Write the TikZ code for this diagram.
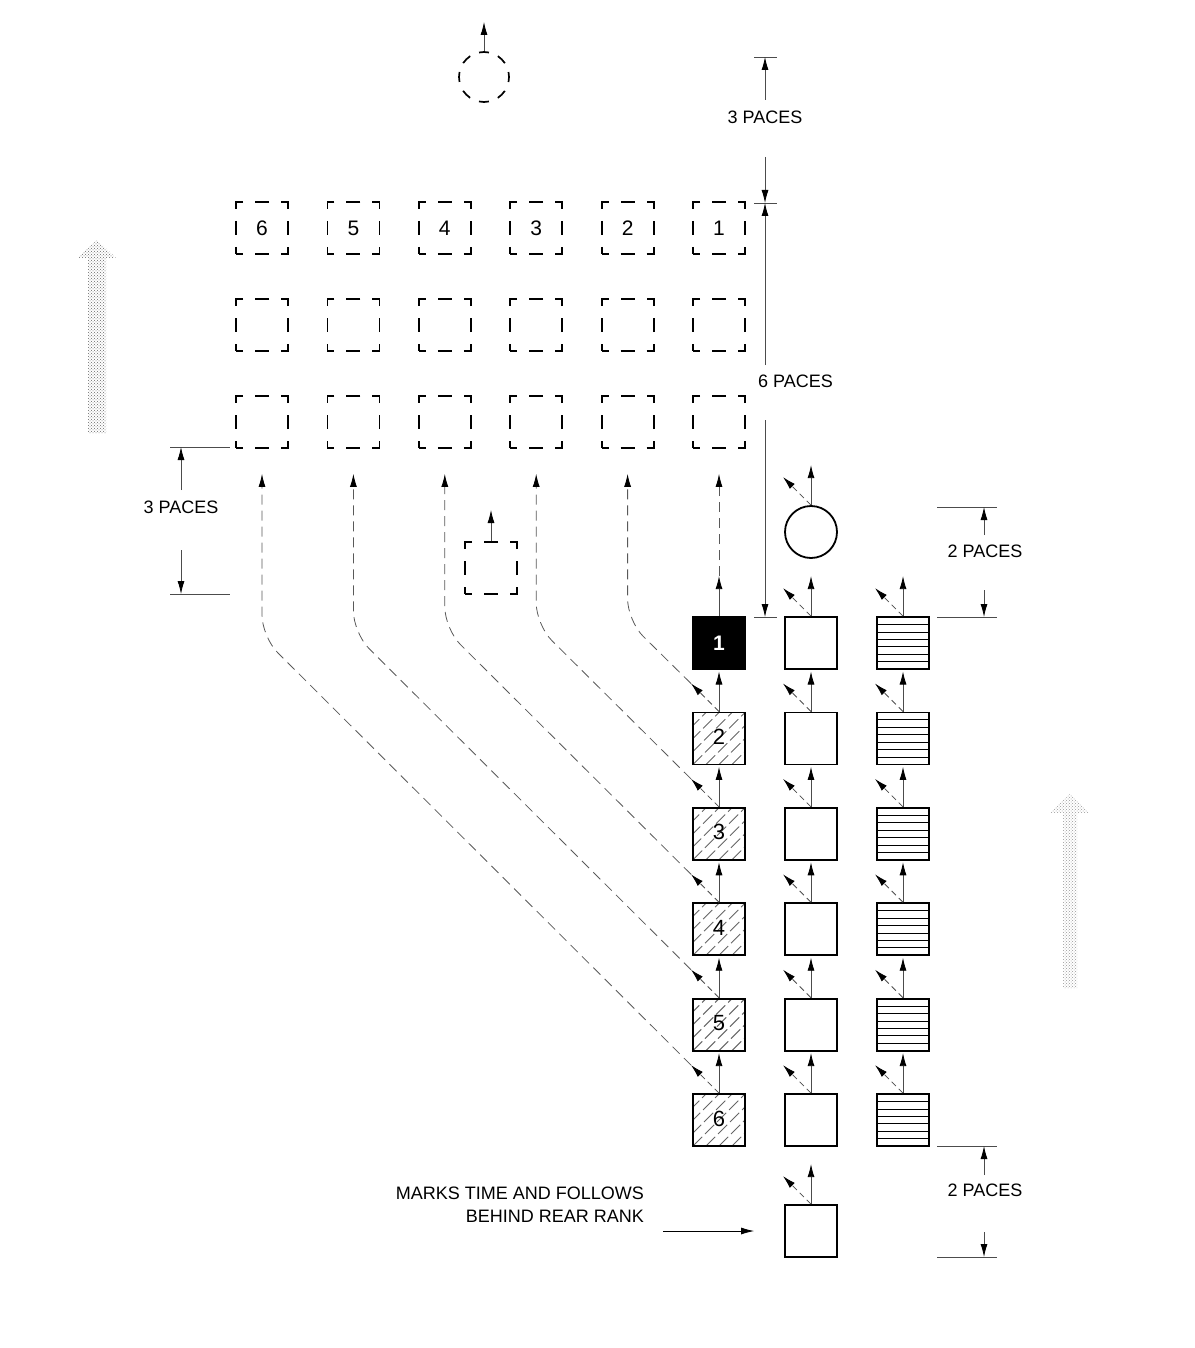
\documentclass[tikz,border=0pt]{standalone}
\usepackage{fontspec}
\setmainfont{Liberation Sans}
\usetikzlibrary{arrows.meta,patterns}
\begin{document}
\begin{tikzpicture}[x=1pt,y=-1pt,
  box/.style={draw, line width=1.8pt, minimum size=52pt, inner sep=0pt, font=\fontsize{22}{22}\selectfont},
  dbox/.style={draw, line width=1.8pt, minimum size=52pt, inner sep=0pt, dash pattern=on 14pt off 12pt, dash phase=7pt, font=\fontsize{21}{21}\selectfont},
  hatchbox/.style={box, path picture={
     \foreach \i in {-65,-52,...,65}
       \draw[gray!80!black, line width=0.9pt, dash pattern=on 13pt off 4pt]
         ([xshift=\i pt]path picture bounding box.south west) -- ++(60,-60);}},
  linebox/.style={box, path picture={
     \foreach \k in {1,...,6}
       \draw[line width=0.7pt]
         ([yshift={-\k*7.43pt}]path picture bounding box.north west) --
         ([yshift={-\k*7.43pt}]path picture bounding box.north east);}},
  arr/.style={draw=gray!60!black, line width=0.8pt, -{Latex[length=13pt,width=7pt,black]}},
  darr/.style={arr, dash pattern=on 6pt off 4pt},
  ldash/.style={arr, draw=gray!70!black, dash pattern=on 10pt off 6pt},
  dim/.style={draw=gray!60!black, line width=0.8pt},
  lbl/.style={font=\fontsize{18}{18}\selectfont, inner sep=1pt},
  shade/.style={draw=none, pattern=crosshatch dots, pattern color=#1}
]
\useasboundingbox (0,0) rectangle (1194,1348);

% shaded direction arrows
\path[shade=gray!80!black] (88,433) -- (88,258) -- (78,258) -- (97,240) -- (116,258) -- (106,258) -- (106,433) -- cycle;
\path[shade=gray!80] (1063,988) -- (1063,813) -- (1050,813) -- (1070,794) -- (1089,813) -- (1077,813) -- (1077,988) -- cycle;

% top dashed circle
\node[draw, circle, minimum size=50pt, inner sep=0pt, line width=1.7pt, dash pattern=on 10pt off 9.6pt, dash phase=5pt] (tc) at (484,77) {};
\coordinate (tct) at (484,22);
\draw[arr] (tc.north) -- (tct);

% grid of dashed squares
\foreach \c in {1,...,6} {
  \pgfmathsetmacro{\gx}{719-(\c-1)*91.4}
  \node[dbox] (g1\c) at (\gx,228) {\c};
  \node[dbox] (g2\c) at (\gx,325) {};
  \node[dbox] (g3\c) at (\gx,422) {};
}

% small dashed square
\node[dbox] (ds) at (491,568) {};
\coordinate (dst) at (491,510);
\draw[arr] (ds.north) -- (dst);

% column 1 (numbered)
\node[box, fill=black, text=white, font=\fontsize{21}{21}\selectfont\bfseries] (h1) at (719,643) {1};
\foreach \k in {2,...,6} {
  \pgfmathsetmacro{\hy}{643+(\k-1)*95.4}
  \node[hatchbox] (h\k) at (719,\hy) {\raisebox{3pt}{\k}};
}
% column 2 (plain), column 3 (lined)
\node[box, circle] (p0) at (811,532) {};
\foreach \k in {1,...,6} {
  \pgfmathsetmacro{\hy}{643+(\k-1)*95.4}
  \node[box] (p\k) at (811,\hy) {};
  \node[linebox] (r\k) at (903,\hy) {};
}
\node[box] (pb) at (811,1231) {};

% small arrows
\draw[arr] (h1.north) -- ++(0,-40) coordinate (h1t);
\foreach \n in {h2,h3,h4,h5,h6,p0,p1,p2,p3,p4,p5,p6,pb,r1,r2,r3,r4,r5,r6} {
  \draw[arr] (\n.north) -- ++(0,-40);
  \draw[darr] (\n.north) -- ++(-28,-28) coordinate (\n t);
}

% long dashed paths
\draw[ldash] (h1t) -- ([yshift=-25pt]g31.south);
\foreach \k in {2,...,6} {
  \pgfmathsetmacro{\gx}{719-(\k-1)*91.4}
  \pgfmathsetmacro{\cy}{643+(\k-1)*95.4-54-(691-\gx)}
  \draw[ldash, rounded corners=22pt] (h\k t) -- (\gx,\cy) -- ([yshift=-25pt]g3\k.south);
}

% dimension: top right 3 paces / 6 paces
\coordinate (a1) at (754,57);  \coordinate (a2) at (777,57);
\coordinate (b1) at (754,203); \coordinate (b2) at (777,203);
\coordinate (c1) at (754,617); \coordinate (c2) at (777,617);
\draw[dim] (a1) -- (a2) (b1) -- (b2) (c1) -- (c2);
\node[lbl] (d3) at (765,117) {3 PACES};
\draw[arr] (765,100) -- (765,57);
\draw[arr] (765,157) -- (765,203);
\node[lbl, anchor=west] (d6) at (757,381) {6 PACES};
\draw[arr] (765,365) -- (765,203);
\draw[arr] (765,420) -- (765,617);

% dimension: left 3 paces
\draw[dim] (170,447) -- (230,447) (170,594) -- (230,594);
\node[lbl] (dl) at (181,507) {3 PACES};
\draw[arr] (181,490) -- (181,447);
\draw[arr] (181,550) -- (181,594);

% dimension: right 2 paces (top)
\draw[dim] (937,507) -- (997,507) (937,617) -- (997,617);
\node[lbl] (dr1) at (985,551) {2 PACES};
\draw[arr] (984,535) -- (984,507);
\draw[arr] (984,590) -- (984,617);

% dimension: right 2 paces (bottom)
\draw[dim] (937,1146) -- (997,1146) (937,1257) -- (997,1257);
\node[lbl] (dr2) at (985,1190) {2 PACES};
\draw[arr] (984,1175) -- (984,1146);
\draw[arr] (984,1232) -- (984,1257);

% note
\node[lbl, anchor=north east, align=right, font=\fontsize{18}{23}\selectfont] (note) at (645,1186) {MARKS TIME AND FOLLOWS\\BEHIND REAR RANK};
\coordinate (ns) at (663,1231);
\draw[arr, draw=black] (ns) -- ([xshift=-30pt]pb.west);
\end{tikzpicture}
\end{document}
